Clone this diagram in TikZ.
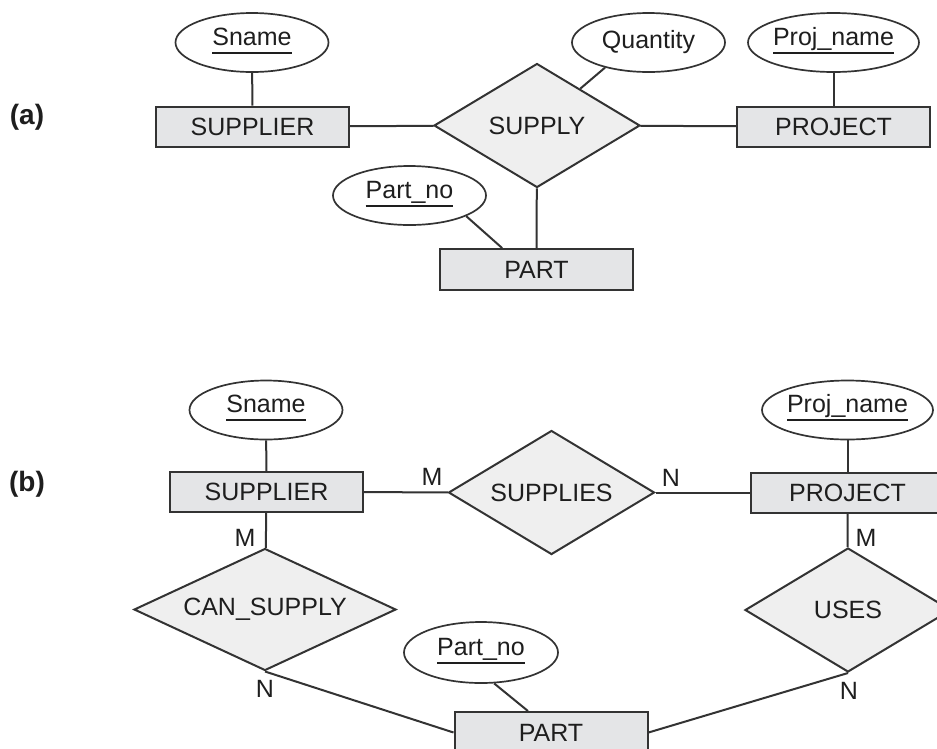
\documentclass[tikz,border=0pt]{standalone}
\usepackage{fontspec}
\setmainfont{Liberation Sans}
\usetikzlibrary{shapes.geometric}

\definecolor{entfill}{HTML}{E4E5E7}
\definecolor{relfill}{HTML}{EFEFEF}
\definecolor{edgegray}{HTML}{333333}
\definecolor{ink}{HTML}{1E1E1E}

% key attribute: text with a rule set a fixed distance below the baseline
\newsavebox\keybox
\newcommand\keyname[1]{\sbox\keybox{#1}\rlap{\smash{\rule[-8.5pt]{\wd\keybox}{1.7pt}}}\usebox\keybox}

\tikzset{
  every node/.style={font=\fontsize{25}{30}\selectfont, text=ink},
  entity/.style={rectangle, draw=edgegray, fill=entfill, line width=2pt,
    minimum width=193pt, minimum height=40pt, inner sep=0pt},
  relation/.style={diamond, draw=edgegray, fill=relfill, line width=2pt,
    minimum width=206pt, minimum height=124pt, inner sep=0pt, aspect=1.66},
  attr/.style={ellipse, draw=edgegray, line width=1.7pt,
    minimum width=153pt, minimum height=59pt, inner sep=0pt},
  keyattr/.style={attr, text height=18pt, text depth=13pt},
  card/.style={inner sep=0pt},
  partlabel/.style={font=\fontsize{28}{32}\selectfont\bfseries, inner sep=0pt},
  link/.style={draw=edgegray, line width=2pt}
}

\begin{document}
\begin{tikzpicture}[x=1pt, y=-1pt]
  \useasboundingbox (0,0) rectangle (937,748);

  % ---------- (a) ternary relationship ----------
  \node[partlabel] (labA) at (27,117) {(a)};

  \node[keyattr] (snameA)   at (252,42.5)    {\keyname{Sname}};
  \node[entity]  (suppA)    at (252.5,126.5) {SUPPLIER};
  \node[relation](supply)   at (537,125.5)   {SUPPLY};
  \node[attr]    (qty)      at (648.5,42.5)  {Quantity};
  \node[keyattr] (pnameA)   at (833.5,42.5)  {\keyname{Proj\_name}};
  \node[entity]  (projA)    at (833.5,126.5) {PROJECT};
  \node[keyattr] (partnoA)  at (409.5,195.5) {\keyname{Part\_no}};
  \node[entity, minimum height=41pt] (partA) at (536.5,269.5) {PART};

  \draw[link] (snameA) -- (suppA);
  \draw[link] (suppA) -- (supply);
  \draw[link] (supply) -- (projA);
  \draw[link] (pnameA) -- (projA);
  \draw[link] (qty.210) -- (supply);
  \draw[link] (supply) -- (partA);
  \draw[link] (partnoA.340) -- (partA.148.5);

  % ---------- (b) three binary relationships ----------
  \node[partlabel] (labB) at (27,484) {(b)};

  \node[keyattr] (snameB)   at (266,410)     {\keyname{Sname}};
  \node[entity]  (suppB)    at (266.5,492)   {SUPPLIER};
  \node[relation](supplies) at (551.5,492.5) {SUPPLIES};
  \node[keyattr] (pnameB)   at (847.5,410)   {\keyname{Proj\_name}};
  \node[entity]  (projB)    at (847.5,492.5) {PROJECT};
  \node[relation, minimum width=262pt, minimum height=122pt] (cansupply) at (265,609.5) {CAN\_SUPPLY};
  \node[relation](uses)     at (848,610)     {USES};
  \node[keyattr, minimum width=154pt, minimum height=61pt] (partnoB) at (481,652.5) {\keyname{Part\_no}};
  \node[entity, minimum height=41pt] (partB) at (551,732.5) {PART};

  \draw[link] (snameB) -- (suppB);
  \draw[link] (suppB) -- (supplies);
  \draw[link] (supplies) -- (projB);
  \draw[link] (pnameB) -- (projB);
  \draw[link] (suppB) -- (cansupply);
  \draw[link] (projB) -- (uses);
  \draw[link] (cansupply.south) -- (partB.west);
  \draw[link] (uses.south) -- (partB.east);
  \draw[link] (partnoB.293) -- (partB.137);

  % cardinalities
  \node[card] (mSupplies) at (432,477) {M};
  \node[card] (nSupplies) at (671,478) {N};
  \node[card] (mCan)      at (245,538) {M};
  \node[card] (nCan)      at (265,689) {N};
  \node[card] (mUses)     at (866,538) {M};
  \node[card] (nUses)     at (849,691) {N};
\end{tikzpicture}
\end{document}
